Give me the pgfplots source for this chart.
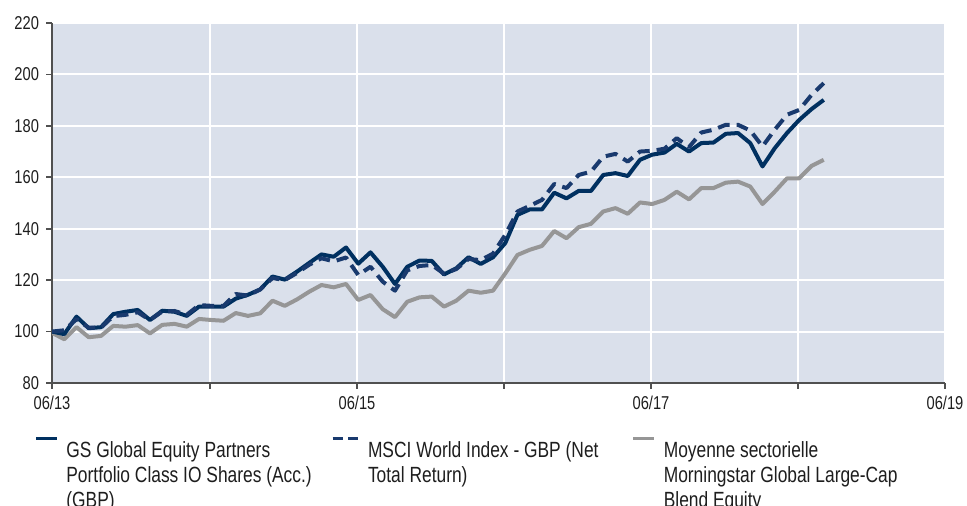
\documentclass[border=0pt]{standalone}
\usepackage{fontspec}
\setmainfont{Liberation Sans}[FakeStretch=0.79]
\usepackage{pgfplots}
\pgfplotsset{compat=1.18}
\definecolor{bg}{RGB}{218,224,235}
\definecolor{navy}{RGB}{0,48,96}
\definecolor{navyd}{RGB}{25,58,110}
\definecolor{grayl}{RGB}{150,150,150}
\definecolor{axisc}{RGB}{80,80,80}
\definecolor{txt}{RGB}{30,30,30}
\begin{document}
\begin{tikzpicture}
\path[use as bounding box] (0,0) rectangle (483.5pt,253pt);
\begin{axis}[
 at={(26pt,61.5pt)}, anchor=south west,
 scale only axis, width=446.5pt, height=180pt,
 xmin=0, xmax=72.9, ymin=80, ymax=220,
 axis lines=left, axis line style={-, axisc, line width=0.8pt},
 axis background/.style={fill=bg},
 ytick={80,100,...,220},
 xtick={0,12.9,24.9,36.9,48.9,60.9,72.9},
 xticklabels={06/13,,06/15,,06/17,,06/19},
 grid=major, major grid style={white, line width=1pt},
 tick style={axisc, line width=0.8pt},
 tick align=outside, major tick length=3pt,
 ticklabel style={font=\fontsize{9.3}{10}\selectfont, text=txt},
 /pgf/number format/assume math mode=true,
 every axis plot/.append style={line join=round, line cap=butt},
]
\addplot[grayl, line width=2pt] coordinates {
(0,99.5)(1,97)(2,101.7)(3,97.8)(4,98.3)(5,102.2)(6,101.9)(7,102.5)(8,99.3)(9,102.6)(10,103)(11,101.9)(12,104.9)(13,104.5)(14,104.2)(15,107.2)(16,106.1)(17,107.1)(18,112)(19,110)(20,112.5)(21,115.5)(22,118.1)(23,117.2)(24,118.5)(25,112.3)(26,114.2)(27,108.7)(28,105.6)(29,111.6)(30,113.3)(31,113.6)(32,109.7)(33,112)(34,115.9)(35,115.1)(36,115.9)(37,122.6)(38,129.8)(39,131.8)(40,133.3)(41,139.1)(42,136.3)(43,140.6)(44,141.9)(45,146.7)(46,148)(47,145.8)(48,150.2)(49,149.6)(50,151.2)(51,154.4)(52,151.4)(53,155.8)(54,155.8)(55,157.9)(56,158.3)(57,156.4)(58,149.6)(59,154.4)(60,159.6)(61,159.6)(62,164.4)(63,166.8)
};
\addplot[navy, line width=2pt] coordinates {
(0,100)(1,99)(2,105.8)(3,101.3)(4,101.7)(5,106.8)(6,107.7)(7,108.4)(8,104.5)(9,108.1)(10,107.7)(11,106.1)(12,109.7)(13,109.7)(14,109.7)(15,112.8)(16,114.3)(17,116.4)(18,121.4)(19,120.2)(20,123.3)(21,126.7)(22,130)(23,129.1)(24,132.7)(25,126.4)(26,130.8)(27,125.2)(28,118.5)(29,125.2)(30,127.6)(31,127.5)(32,122.2)(33,124.6)(34,128.9)(35,126.3)(36,128.9)(37,134.4)(38,145.4)(39,147.5)(40,147.5)(41,154)(42,151.8)(43,154.7)(44,154.7)(45,160.9)(46,161.6)(47,160.5)(48,166.8)(49,168.8)(50,169.6)(51,173)(52,170)(53,173.3)(54,173.5)(55,176.9)(56,177.2)(57,173.3)(58,164.2)(59,171.3)(60,177.2)(61,182.3)(62,186.5)(63,190.1)
};
\addplot[navyd, line width=2pt, dash pattern=on 6pt off 3.5pt] coordinates {
(0,100)(1,100.5)(2,104.8)(3,101.5)(4,101.5)(5,106)(6,106.5)(7,107.5)(8,104.5)(9,107.8)(10,108)(11,106.5)(12,110.3)(13,110)(14,110)(15,114.6)(16,114)(17,116.4)(18,120.8)(19,120)(20,122.8)(21,126)(22,128.5)(23,127.3)(24,128.8)(25,122)(26,125.2)(27,119.4)(28,115.9)(29,123.8)(30,125.5)(31,125.9)(32,122.5)(33,124.3)(34,128.2)(35,127.8)(36,130.3)(37,137.6)(38,146.7)(39,148.9)(40,151.2)(41,157.4)(42,155.8)(43,160.9)(44,162.2)(45,168)(46,169.1)(47,166.1)(48,170)(49,170.3)(50,171.1)(51,175.2)(52,171.7)(53,177.4)(54,178.5)(55,180.4)(56,180.4)(57,178.2)(58,172)(59,178.5)(60,184.3)(61,186.2)(62,192)(63,196.6)
};
\end{axis}
\draw[navy, line width=1.4pt] (18pt,33.75pt) -- (28.5pt,33.75pt);
\node[anchor=north west, inner sep=0pt, align=left, text=txt, font=\fontsize{11}{12.5}\selectfont] at (33pt,32.5pt) {GS Global Equity Partners\\Portfolio Class IO Shares (Acc.)\\(GBP)};
\draw[navyd, line width=1.4pt, dash pattern=on 5pt off 2.8pt] (166.3pt,33.75pt) -- (179.1pt,33.75pt);
\node[anchor=north west, inner sep=0pt, align=left, text=txt, font=\fontsize{11}{12.5}\selectfont] at (183.8pt,32.5pt) {MSCI World Index - GBP (Net\\Total Return)};
\draw[grayl, line width=1.4pt] (316.7pt,33.75pt) -- (327.2pt,33.75pt);
\node[anchor=north west, inner sep=0pt, align=left, text=txt, font=\fontsize{11}{12.5}\selectfont] at (331.7pt,32.5pt) {Moyenne sectorielle\\Morningstar Global Large-Cap\\Blend Equity};
\end{tikzpicture}
\end{document}
